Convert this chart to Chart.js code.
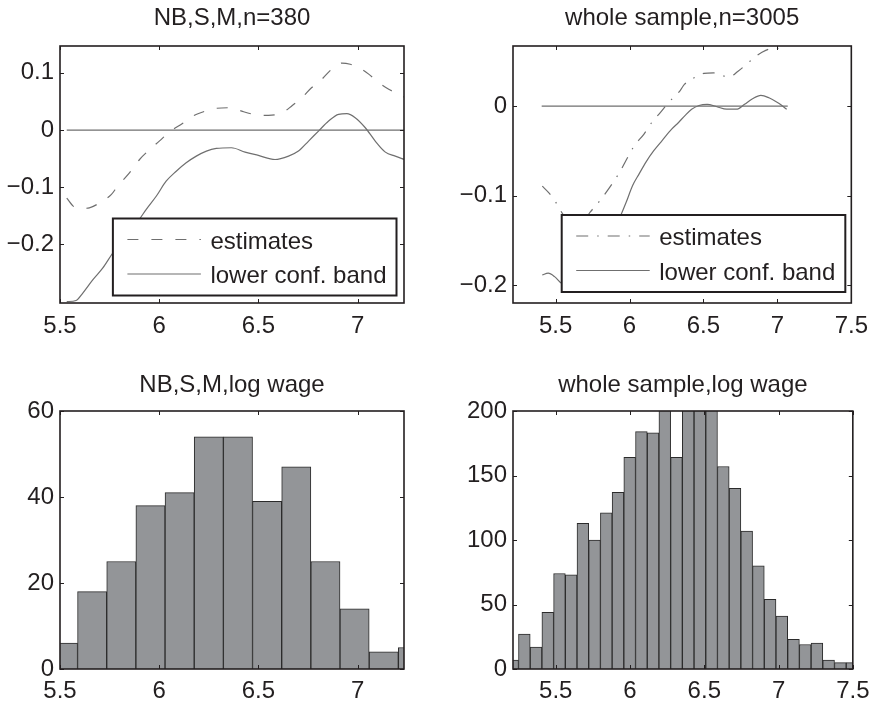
<!DOCTYPE html>
<html lang="en">
<head>
<meta charset="UTF-8">
<title>log wage estimates</title>
<script src="https://cdn.jsdelivr.net/npm/chart.js"></script>
<style>
  body { margin: 0; background: #fff; }
  #page { position: relative; width: 877px; height: 704px; overflow: hidden; }
  canvas { position: absolute; }
</style>
</head>
<body>
<div id="page">
  <canvas id="tl" width="438" height="352" style="left:0;top:0"></canvas>
  <canvas id="tr" width="439" height="352" style="left:438px;top:0"></canvas>
  <canvas id="bl" width="438" height="352" style="left:0;top:352px"></canvas>
  <canvas id="br" width="439" height="352" style="left:438px;top:352px"></canvas>
</div>
<script>
// ---- top left: NB,S,M,n=380 ----
const tlEstX = [5.534, 5.572, 5.610, 5.648, 5.699, 5.758, 5.791, 5.850, 5.901, 5.943, 6.002, 6.052, 6.119, 6.170, 6.220, 6.288, 6.364, 6.416, 6.483, 6.551, 6.618, 6.668, 6.719, 6.769, 6.820, 6.870, 6.921, 6.963, 7.005, 7.056, 7.106, 7.157, 7.224, 7.240];
const tlEstY = [-0.119, -0.1345, -0.137, -0.136, -0.1275, -0.113, -0.098, -0.075, -0.0515, -0.037, -0.019, -0.0035, 0.012, 0.0246, 0.0316, 0.038, 0.039, 0.033, 0.027, 0.0257, 0.030, 0.042, 0.0567, 0.0743, 0.0889, 0.1064, 0.117, 0.115, 0.1094, 0.0977, 0.083, 0.0714, 0.0596, 0.057];
const tlLowX = [5.534, 5.581, 5.614, 5.665, 5.715, 5.766, 5.833, 5.901, 5.934, 5.985, 6.035, 6.086, 6.136, 6.187, 6.238, 6.288, 6.364, 6.433, 6.500, 6.584, 6.652, 6.702, 6.753, 6.803, 6.854, 6.904, 6.946, 6.988, 7.039, 7.089, 7.140, 7.190, 7.240];
const tlLowY = [-0.300, -0.298, -0.2854, -0.262, -0.2415, -0.215, -0.185, -0.1556, -0.139, -0.1158, -0.0895, -0.072, -0.0573, -0.0456, -0.0368, -0.0322, -0.031, -0.0386, -0.0444, -0.0515, -0.0456, -0.0368, -0.0193, -0.0018, 0.0158, 0.0275, 0.0286, 0.0216, 0.004, -0.0193, -0.0386, -0.0456, -0.052];
const tlZeroX = [5.534, 7.240];
const tlXTicks = [5.5, 6, 6.5, 7];
const tlYTicks = [-0.2, -0.1, 0, 0.1];

// ---- top right: whole sample,n=3005 ----
const trEstX = [5.410, 5.450, 5.493, 5.526, 5.571, 5.640, 5.700, 5.735, 5.801, 5.867, 5.933, 5.988, 6.032, 6.098, 6.153, 6.208, 6.263, 6.340, 6.371, 6.437, 6.503, 6.569, 6.624, 6.674, 6.734, 6.789, 6.855, 6.921, 6.987, 7.057];
const trEstY = [-0.0894, -0.0961, -0.1053, -0.1146, -0.1257, -0.132, -0.126, -0.1183, -0.1053, -0.0905, -0.0739, -0.0572, -0.0442, -0.0312, -0.0176, -0.0072, 0.0039, 0.0169, 0.0243, 0.0317, 0.0366, 0.0372, 0.0343, 0.0328, 0.0391, 0.0466, 0.0558, 0.0624, 0.065, 0.0613];
const trLowX = [5.410, 5.450, 5.493, 5.538, 5.582, 5.650, 5.750, 5.850, 5.944, 5.978, 6.021, 6.065, 6.110, 6.164, 6.219, 6.285, 6.330, 6.375, 6.420, 6.470, 6.525, 6.591, 6.657, 6.723, 6.778, 6.832, 6.888, 6.943, 7.009, 7.063];
const trLowY = [-0.1887, -0.1868, -0.1906, -0.1979, -0.2028, -0.206, -0.188, -0.157, -0.1209, -0.1072, -0.0887, -0.0757, -0.0628, -0.0498, -0.0387, -0.0257, -0.0185, -0.0105, -0.0035, 0.0008, 0.0021, -0.0006, -0.0034, -0.0034, 0.0021, 0.0083, 0.0121, 0.0094, 0.0032, -0.0034];
const trZeroX = [5.406, 7.070];
const trXTicks = [5.5, 6, 6.5, 7, 7.5];
const trYTicks = [-0.2, -0.1, 0];

// ---- bottom left: NB,S,M,log wage ----
const blBins = [5.515, 5.662, 5.809, 5.956, 6.103, 6.250, 6.397, 6.544, 6.691, 6.838, 6.985, 7.132, 7.279];
const blCounts = [6, 18, 25, 38, 41, 54, 54, 39, 47, 25, 14, 4, 5];
const blYTicks = [0, 20, 40, 60];

// ---- bottom right: whole sample,log wage ----
const brBins = [5.2096, 5.2884, 5.3672, 5.4460, 5.5248, 5.6036, 5.6824, 5.7612, 5.8400, 5.9188, 5.9976, 6.0764, 6.1552, 6.2340, 6.3128, 6.3916, 6.4704, 6.5492, 6.6280, 6.7068, 6.7856, 6.8644, 6.9432, 7.0220, 7.1008, 7.1796, 7.2584, 7.3372, 7.4160, 7.4948];
const brCounts = [7, 27, 17, 44, 74, 73, 113, 100, 121, 137, 164, 184, 183, 205, 164, 235, 265, 236, 157, 140, 107, 80, 54, 41, 23, 19, 20, 7, 5, 5];
const brYTicks = [0, 50, 100, 150, 200];

const legendLabels = ['estimates', 'lower conf. band'];

Chart.defaults.font.family = "'Liberation Sans', Arial, Helvetica, sans-serif";
Chart.defaults.font.size = 24;
Chart.defaults.color = '#231f20';
Chart.defaults.animation = false;

const lineGray = '#6f6f6f';
const barGray = '#939598';

function fmt(v) {
    return String(v).replace('-', '\u2212');
}

function pts(xs, ys) {
    return xs.map((x, i) => ({ x: x, y: ys[i] }));
}

// MATLAB style box with inward ticks on all four sides
const frameTicks = {
    id: 'frameTicks',
    afterDatasetsDraw(chart) {
        const { ctx, chartArea: a, scales } = chart;
        ctx.save();
        ctx.strokeStyle = '#231f20';
        ctx.lineWidth = 1;
        ctx.beginPath();
        scales.x.ticks.forEach(t => {
            const px = Math.round(scales.x.getPixelForValue(t.value)) + 0.5;
            ctx.moveTo(px, a.bottom); ctx.lineTo(px, a.bottom - 4);
            ctx.moveTo(px, a.top); ctx.lineTo(px, a.top + 4);
        });
        scales.y.ticks.forEach(t => {
            const py = Math.round(scales.y.getPixelForValue(t.value)) + 0.5;
            ctx.moveTo(a.left, py); ctx.lineTo(a.left + 4, py);
            ctx.moveTo(a.right, py); ctx.lineTo(a.right - 4, py);
        });
        ctx.stroke();
        ctx.lineWidth = 1.6;
        ctx.strokeRect(a.left, a.top, a.right - a.left, a.bottom - a.top);
        ctx.restore();
    }
};

// boxed legend in the lower right corner of the plot
const boxLegend = {
    id: 'boxLegend',
    afterDraw(chart, args, opts) {
        if (!opts.show) return;
        const { ctx, chartArea: a } = chart;
        const items = chart.data.datasets.filter(d => d.label);
        ctx.save();
        ctx.font = "24px 'Liberation Sans', Arial, sans-serif";
        const tw = Math.max(...items.map(d => ctx.measureText(d.label).width));
        const w = 14.5 + 73.5 + 9.5 + tw + 10;
        const h = 77;
        const x0 = a.right - opts.right - w;
        const y0 = a.bottom - opts.bottom - h;
        ctx.fillStyle = '#fff';
        ctx.fillRect(x0, y0, w, h);
        ctx.strokeStyle = '#231f20';
        ctx.lineWidth = 2;
        ctx.strokeRect(x0, y0, w, h);
        items.forEach((d, i) => {
            const ly = y0 + 21 + i * 34.5;
            ctx.beginPath();
            ctx.setLineDash(d.borderDash || []);
            ctx.strokeStyle = d.borderColor;
            ctx.lineWidth = d.borderWidth;
            ctx.moveTo(x0 + 14.5, ly);
            ctx.lineTo(x0 + 14.5 + 73.5, ly);
            ctx.stroke();
            ctx.setLineDash([]);
            ctx.fillStyle = '#231f20';
            ctx.textBaseline = 'middle';
            ctx.textAlign = 'left';
            ctx.fillText(d.label, x0 + 14.5 + 73.5 + 9.5, ly + 2.5);
        });
        ctx.restore();
    }
};

function xAxis(min, max, ticks, pad, h) {
    return {
        type: 'linear', min: min, max: max, offset: false,
        grid: { display: false, drawTicks: false, offset: false },
        border: { display: false },
        afterBuildTicks: s => { s.ticks = ticks.map(v => ({ value: v })); },
        afterFit: s => { s.height = h; },
        ticks: { padding: pad, maxRotation: 0, autoSkip: false, callback: v => fmt(v) }
    };
}

function yAxis(min, max, ticks, w) {
    return {
        type: 'linear', min: min, max: max,
        grid: { display: false, drawTicks: false },
        border: { display: false },
        afterBuildTicks: s => { s.ticks = ticks.map(v => ({ value: v })); },
        afterFit: s => { s.width = w; },
        ticks: { padding: 6, autoSkip: false, callback: v => fmt(v) }
    };
}

function titleOpts(text, top, bottom) {
    return {
        display: true, text: text, fullSize: false,
        padding: { top: top, bottom: bottom },
        font: { size: 24, weight: 'normal' }, color: '#231f20'
    };
}

function linePanel(id, cfg) {
    new Chart(document.getElementById(id), {
        type: 'line',
        data: {
            datasets: [
                { data: pts(cfg.zeroX, cfg.zeroX.map(() => 0)), borderColor: lineGray, borderWidth: 1.2 },
                { label: legendLabels[0], data: pts(cfg.estX, cfg.estY), borderColor: lineGray, borderWidth: 1.2, borderDash: cfg.dash },
                { label: legendLabels[1], data: pts(cfg.lowX, cfg.lowY), borderColor: lineGray, borderWidth: 1.2 }
            ]
        },
        options: {
            responsive: false,
            elements: { point: { radius: 0 }, line: { tension: 0.3, cubicInterpolationMode: 'monotone' } },
            layout: { padding: { left: 0, right: cfg.padRight, top: 0, bottom: 9 } },
            scales: {
                x: xAxis(cfg.xMin, cfg.xMax, cfg.xTicks, 9, 40),
                y: yAxis(cfg.yMin, cfg.yMax, cfg.yTicks, cfg.yWidth)
            },
            plugins: {
                legend: { display: false },
                tooltip: { enabled: false },
                title: titleOpts(cfg.title, 4.3, 12.9),
                boxLegend: { show: true, right: cfg.legRight, bottom: cfg.legBottom }
            }
        },
        plugins: [frameTicks, boxLegend]
    });
}

function histPanel(id, cfg) {
    new Chart(document.getElementById(id), {
        type: 'bar',
        data: {
            datasets: [{
                data: pts(cfg.bins, cfg.counts),
                backgroundColor: barGray, borderColor: '#2b2b2b', borderWidth: 1,
                barPercentage: 1, categoryPercentage: 1, clip: 0
            }]
        },
        options: {
            responsive: false,
            layout: { padding: { left: 0, right: cfg.padRight, top: 0, bottom: 5 } },
            scales: {
                x: xAxis(cfg.xMin, cfg.xMax, cfg.xTicks, 7.5, 30),
                y: yAxis(0, cfg.yMax, cfg.yTicks, cfg.yWidth)
            },
            plugins: {
                legend: { display: false },
                tooltip: { enabled: false },
                title: titleOpts(cfg.title, 19, 11.2),
                boxLegend: { show: false }
            }
        },
        plugins: [frameTicks, boxLegend]
    });
}

linePanel('tl', {
    title: 'NB,S,M,n=380', estX: tlEstX, estY: tlEstY, lowX: tlLowX, lowY: tlLowY, zeroX: tlZeroX,
    dash: [11, 13], xMin: 5.5, xMax: 7.234, yMin: -0.3024, yMax: 0.1469,
    xTicks: tlXTicks, yTicks: tlYTicks, yWidth: 60, padRight: 34, legRight: 7.5, legBottom: 7.5
});

linePanel('tr', {
    title: 'whole sample,n=3005', estX: trEstX, estY: trEstY, lowX: trLowX, lowY: trLowY, zeroX: trZeroX,
    dash: [12, 9, 1.5, 9], xMin: 5.212, xMax: 7.5, yMin: -0.2201, yMax: 0.0673,
    xTicks: trXTicks, yTicks: trYTicks, yWidth: 75, padRight: 18, legRight: 6, legBottom: 11
});

histPanel('bl', {
    title: 'NB,S,M,log wage', bins: blBins, counts: blCounts,
    xMin: 5.5, xMax: 7.234, yMax: 60, xTicks: tlXTicks, yTicks: blYTicks, yWidth: 60, padRight: 34
});

histPanel('br', {
    title: 'whole sample,log wage', bins: brBins, counts: brCounts,
    xMin: 5.212, xMax: 7.5, yMax: 200, xTicks: trXTicks, yTicks: brYTicks, yWidth: 75, padRight: 18
});
</script>
</body>
</html>
